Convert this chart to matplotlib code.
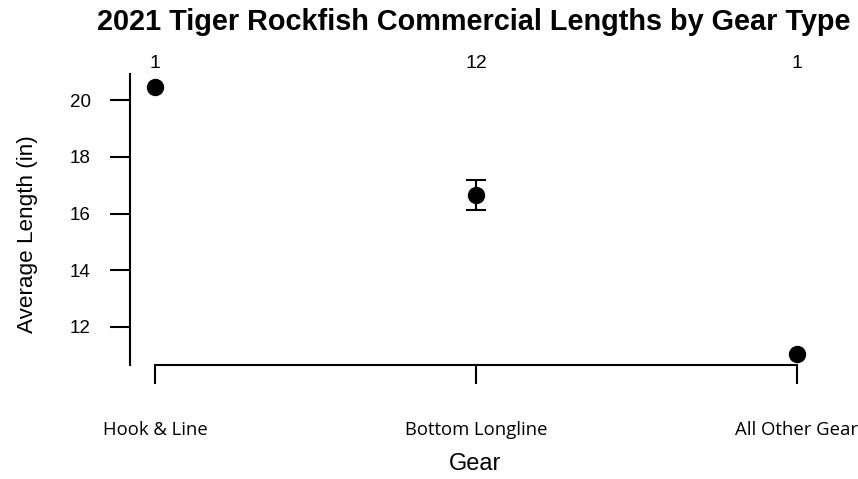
import matplotlib
matplotlib.use("Agg")
import matplotlib.pyplot as plt
import numpy as np

plt.rcParams['font.family'] = ['Liberation Sans', 'DejaVu Sans']

gears = ["Hook & Line", "Bottom Longline", "All Other Gear"]
mean_len = [20.47, 16.64, 11.04]
err_low = [np.nan, 16.11, np.nan]
err_high = [np.nan, 17.18, np.nan]
counts = [1, 12, 1]
yticks = [12, 14, 16, 18, 20]

tick_font = ['Open Sans', 'DejaVu Sans']
tick_size = 13.3

fig = plt.figure(figsize=(8.58, 4.79), dpi=100)
ax = fig.add_axes([130/858, 1-365/479, (822-130)/858, (365-74)/479])

x = np.arange(len(gears))
ax.plot(x, mean_len, 'o', color='black', markersize=11.5, zorder=3)
for xi, m, lo, hi in zip(x, mean_len, err_low, err_high):
    if not np.isnan(lo):
        ax.errorbar([xi], [m], yerr=[[m-lo], [hi-m]], fmt='none', ecolor='black',
                    elinewidth=1.5, capsize=7, capthick=1.5, zorder=2)

ax.set_xlim(-0.078, 2.078)
ax.set_ylim(10.66, 20.92)
ax.set_xticks(x)
ax.set_xticklabels(gears, fontsize=tick_size, family=tick_font)
ax.set_yticks(yticks)
ax.set_yticklabels([str(t) for t in yticks], fontsize=13.5)

for s in ['top', 'right']:
    ax.spines[s].set_visible(False)
ax.spines['left'].set_linewidth(1.5)
ax.spines['bottom'].set_linewidth(1.5)
ax.spines['bottom'].set_bounds(0, 2)
ax.tick_params(axis='y', length=14.4, width=1.5, pad=14)
ax.tick_params(axis='x', length=13.7, width=1.5, pad=26.5)

for xi, c in zip(x, counts):
    ax.text(xi, (365-68)/291, str(c), transform=ax.get_xaxis_transform(), ha='center',
            va='baseline', fontsize=14, clip_on=False)

fig.text(27/858, 1-234/479, "Average Length (in)", rotation=90, ha='center',
         va='center', fontsize=16.2)
fig.text(475/858, 1-464/479, "Gear", ha='center', va='center', fontsize=17)
fig.text(474/858, 1-22/479, "2021 Tiger Rockfish Commercial Lengths by Gear Type",
         ha='center', va='center', fontsize=20.8, fontweight='bold')

fig.savefig("out.png", dpi=100)
